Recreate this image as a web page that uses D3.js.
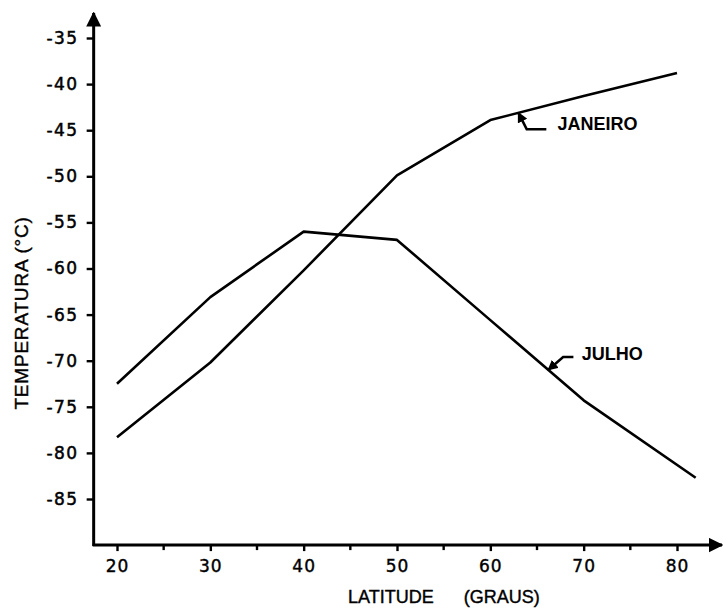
<!DOCTYPE html>
<html lang="pt">
<head>
<meta charset="UTF-8">
<title>Temperatura x Latitude</title>
<script src="https://d3js.org/d3.v7.min.js"></script>
<style>
    body { margin: 0; background: #fff; }
    svg { display: block; }
    .tick text { font-family: "DejaVu Sans", sans-serif; }
</style>
</head>
<body>
<svg width="723" height="608" viewBox="0 0 723 608"></svg>
<script>
// data
let latitudes = [20, 30, 40, 50, 60, 70, 80];
let janeiro = [-78.3, -70.2, -60.2, -49.9, -43.9, -41.3, -38.8];
let julhoLat = [20, 30, 40, 50, 60, 70, 82];
let julho = [-72.5, -63.1, -56.0, -56.9, -65.6, -74.3, -82.7];
let yTicks = [-35, -40, -45, -50, -55, -60, -65, -70, -75, -80, -85];
let xTicks = [20, 30, 40, 50, 60, 70, 80];
let xMinor = [25, 35, 45, 55, 65, 75];

// labels with the little bent arrows, in data units
let labels = [
    {text: "JANEIRO", at: [67.2, -45.0], arrow: [[66.0, -44.9], [63.9, -44.9], [63.0, -43.1]]},
    {text: "JULHO", at: [69.8, -69.9], arrow: [[68.9, -69.6], [67.8, -69.6], [66.2, -71.0]]}
];

let svg = d3.select("svg");
let x = d3.scaleLinear().domain([20, 80]).range([117, 677]);
let y = d3.scaleLinear().domain([-35, -85]).range([38, 499]);
let x0 = x(17.5), y0 = y(-90);

let defs = svg.append("defs");
[["head", 4], ["bighead", 5]].forEach(function (m) {
    defs.append("marker")
        .attr("id", m[0]).attr("viewBox", "0 0 10 10")
        .attr("refX", 9).attr("refY", 5)
        .attr("markerWidth", m[1]).attr("markerHeight", m[1])
        .attr("markerUnits", "strokeWidth")
        .attr("orient", "auto")
        .append("path").attr("d", "M0,0L10,5L0,10z").attr("fill", "#000");
});

// y axis
let yAxis = svg.append("g")
    .attr("transform", "translate(" + x0 + ",0)")
    .call(d3.axisLeft(y).tickValues(yTicks).tickSize(7).tickPadding(8)
        .tickFormat(d => "-" + Math.abs(d)));
yAxis.select(".domain").remove();
yAxis.selectAll("line").attr("stroke-width", 2.4);
yAxis.selectAll("text").attr("font-size", 17).attr("letter-spacing", 1.5)
    .attr("fill", "#000").attr("stroke", "#000").attr("stroke-width", 0.5);

// x axis
let xAxis = svg.append("g")
    .attr("transform", "translate(0," + y0 + ")")
    .call(d3.axisBottom(x).tickValues(xTicks).tickSize(6).tickPadding(9)
        .tickFormat(d3.format("d")));
xAxis.select(".domain").remove();
xAxis.selectAll("line").attr("stroke-width", 2.4);
xAxis.selectAll("text").attr("font-size", 17).attr("letter-spacing", 1)
    .attr("fill", "#000").attr("stroke", "#000").attr("stroke-width", 0.4);
svg.append("g").selectAll("line").data(xMinor).join("line")
    .attr("x1", d => x(d)).attr("x2", d => x(d))
    .attr("y1", y0).attr("y2", y0 + 5)
    .attr("stroke", "#000").attr("stroke-width", 2.4);

// axis lines with arrows at the ends
svg.append("line").attr("x1", x0).attr("y1", y0 + 1).attr("x2", x0).attr("y2", 13)
    .attr("stroke", "#000").attr("stroke-width", 3).attr("marker-end", "url(#bighead)");
svg.append("line").attr("x1", x0 - 1).attr("y1", y0).attr("x2", 722).attr("y2", y0)
    .attr("stroke", "#000").attr("stroke-width", 3).attr("marker-end", "url(#bighead)");

// the two curves
let line = d3.line().x(d => x(d[0])).y(d => y(d[1]));
svg.append("path").datum(latitudes.map((d, i) => [d, janeiro[i]]))
    .attr("d", line).attr("fill", "none").attr("stroke", "#000")
    .attr("stroke-width", 2.6).attr("stroke-linejoin", "round");
svg.append("path").datum(julhoLat.map((d, i) => [d, julho[i]]))
    .attr("d", line).attr("fill", "none").attr("stroke", "#000")
    .attr("stroke-width", 2.6).attr("stroke-linejoin", "round");

// labels
labels.forEach(function (l) {
    svg.append("text").attr("x", x(l.at[0])).attr("y", y(l.at[1]))
        .attr("font-family", "Liberation Sans, Arial, sans-serif")
        .attr("font-size", 18).attr("font-weight", "bold")
        .text(l.text);
    svg.append("path").datum(l.arrow).attr("d", line)
        .attr("fill", "none").attr("stroke", "#000").attr("stroke-width", 2.6)
        .attr("marker-end", "url(#head)");
});

// axis titles
svg.append("text").attr("x", 348).attr("y", 603)
    .attr("font-family", "Liberation Sans, Arial, sans-serif").attr("font-size", 18)
    .attr("stroke", "#000").attr("stroke-width", 0.4)
    .attr("xml:space", "preserve")
    .text("LATITUDE      (GRAUS)");
svg.append("text")
    .attr("transform", "translate(28," + 313 + ") rotate(-90)")
    .attr("text-anchor", "middle")
    .attr("font-family", "Liberation Sans, Arial, sans-serif").attr("font-size", 19)
    .attr("letter-spacing", 0.8)
    .attr("stroke", "#000").attr("stroke-width", 0.4)
    .text("TEMPERATURA (°C)");
</script>
</body>
</html>
